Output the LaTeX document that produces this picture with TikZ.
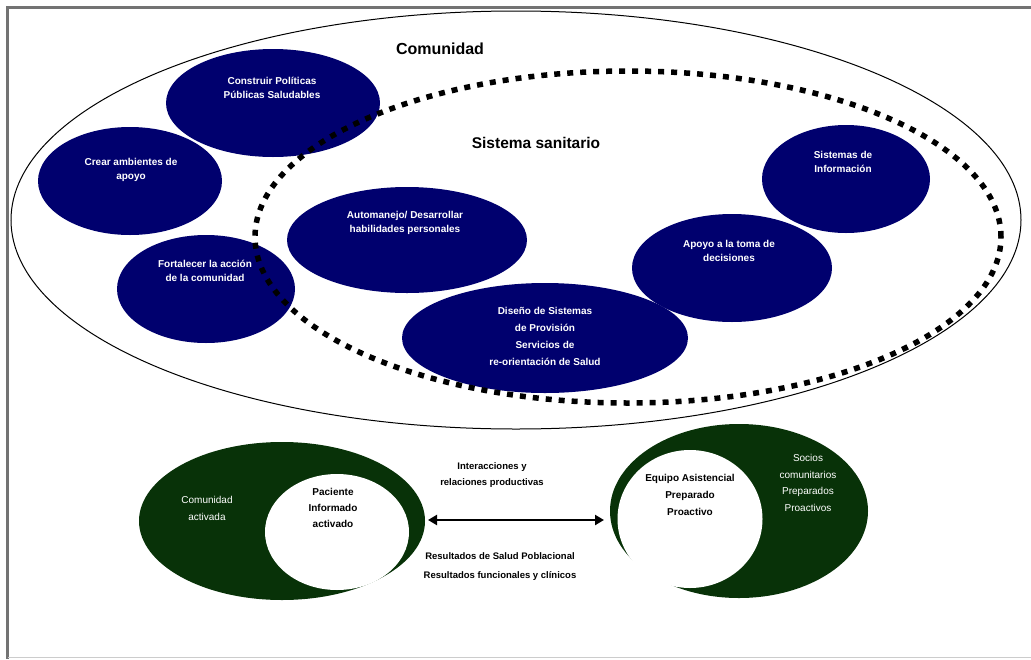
\documentclass[tikz,border=0pt]{standalone}
\usepackage{fontspec}
\setmainfont{Liberation Sans}
\usetikzlibrary{shapes.geometric,arrows.meta}
\definecolor{navy}{RGB}{0,0,110}
\definecolor{dkgreen}{RGB}{8,50,8}
\begin{document}
\begin{tikzpicture}[x=1pt,y=-1pt,
  blob/.style={ellipse, fill=navy, inner sep=0pt, outer sep=0pt},
  gblob/.style={ellipse, fill=dkgreen, inner sep=0pt, outer sep=0pt},
  wblob/.style={ellipse, fill=white, inner sep=0pt, outer sep=0pt},
  wtxt/.style={text=white, font=\fontsize{10}{14}\selectfont\bfseries, align=center, inner sep=0pt},
  btxt/.style={text=black, font=\fontsize{10}{16}\selectfont\bfseries, align=center, inner sep=0pt},
  ltxt/.style={text=black, font=\fontsize{9.5}{16}\selectfont\bfseries, align=center, inner sep=0pt},
  title/.style={text=black, font=\fontsize{16}{18}\selectfont\bfseries, inner sep=0pt},
  arr/.style={{Triangle[length=9pt,width=10pt]}-{Triangle[length=9pt,width=10pt]}, line width=2.5pt}
]
\useasboundingbox (0,0) rectangle (1031,659);
\fill[white] (0,0) rectangle (1031,659);
% frame
\draw[black!55, line width=3pt] (7.5,659) -- (7.5,7.5) -- (1031,7.5);
\draw[black!20, line width=1.5pt] (7.5,657.5) -- (1031,657.5);

% Comunidad ellipse
\node[ellipse, draw, line width=1pt, minimum width=1010pt, minimum height=418pt, inner sep=0pt] (com) at (516,220) {};

% navy ellipses
\node[blob, minimum width=214pt, minimum height=108pt] (cpp) at (273,103) {};
\node[blob, minimum width=184pt, minimum height=108pt] (cam) at (130,181) {};
\node[blob, minimum width=178pt, minimum height=108pt] (fac) at (206,289) {};
\node[blob, minimum width=240pt, minimum height=106pt] (aut) at (407,240) {};
\node[blob, minimum width=286pt, minimum height=110pt] (dis) at (545,338) {};
\node[blob, minimum width=200pt, minimum height=108pt] (apo) at (732,268) {};
\node[blob, minimum width=168pt, minimum height=108pt] (sis) at (846,179) {};

% Sistema sanitario dotted ellipse
\node[ellipse, draw, line width=5.5pt, dash pattern=on 6pt off 7pt, minimum width=746pt, minimum height=332pt, inner sep=0pt] (san) at (628,237) {};

% titles
\node[title] (tcom) at (440,49) {Comunidad};
\node[title, font=\fontsize{15.5}{18}\selectfont\bfseries] (tsan) at (536,143) {Sistema sanitario};

% navy texts
\node[wtxt] (t1) at (272,88) {Construir Políticas\\Públicas Saludables};
\node[wtxt] (t2) at (131,170) {Crear ambientes de\\apoyo};
\node[wtxt] (t3) at (205,271) {Fortalecer la acción\\de la comunidad};
\node[wtxt] (t4) at (405,223) {Automanejo/ Desarrollar\\habilidades personales};
\node[wtxt, font=\fontsize{10}{17}\selectfont\bfseries] (t5) at (545,336) {Diseño de Sistemas\\de Provisión\\Servicios de\\re-orientación de Salud};
\node[wtxt] (t6) at (729,251) {Apoyo a la toma de\\decisiones};
\node[wtxt] (t7) at (843,162) {Sistemas de\\Información};

% bottom ellipses
\node[gblob, minimum width=286pt, minimum height=158pt] (gl) at (282,521) {};
\node[wblob, minimum width=144pt, minimum height=116pt] (wl) at (337,532) {};
\node[gblob, minimum width=258pt, minimum height=174pt] (gr) at (739,511) {};
\node[wblob, minimum width=145pt, minimum height=138pt] (wr) at (690,519) {};

\node[wtxt, font=\fontsize{10}{17}\selectfont] (b1) at (207,508) {Comunidad\\activada};
\node[btxt] (b2) at (333,508) {Paciente\\Informado\\activado};
\node[btxt, font=\fontsize{10}{17}\selectfont\bfseries] (b3) at (690,495) {Equipo Asistencial\\Preparado\\Proactivo};
\node[wtxt, font=\fontsize{10}{16.5}\selectfont] (b4) at (808,483) {Socios\\comunitarios\\Preparados\\Proactivos};

% arrow
\coordinate (al) at (428,520);
\coordinate (ar) at (604,520);
\draw[arr] (al) -- (ar);
\node[ltxt] (l1) at (492,475) {Interacciones y\\relaciones productivas};
\node[ltxt, font=\fontsize{9.5}{19}\selectfont\bfseries] (l2) at (500,567) {Resultados de Salud Poblacional\\Resultados funcionales y clínicos};
\end{tikzpicture}
\end{document}
